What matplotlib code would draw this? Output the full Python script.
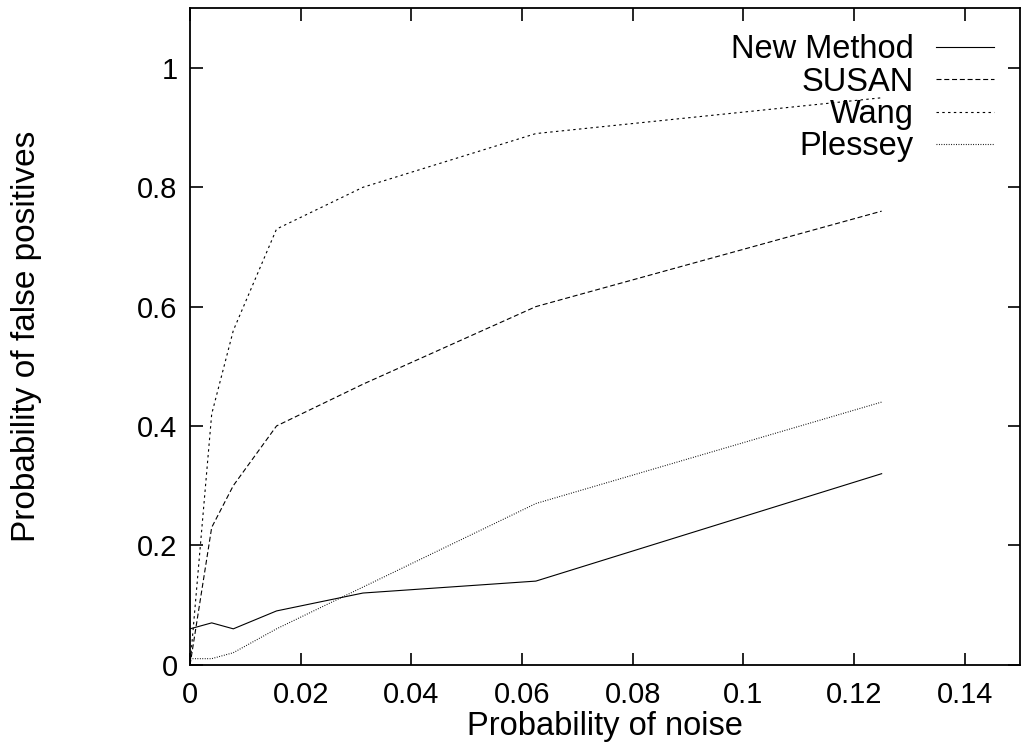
import numpy as np
import matplotlib.pyplot as plt
from matplotlib.ticker import FuncFormatter

plt.rcParams['font.family'] = ['Liberation Sans', 'DejaVu Sans']
plt.rcParams['font.size'] = 21

# noise probabilities 0, 1/256 ... 1/8
noise = [0, 1/256, 1/128, 1/64, 1/32, 1/16, 1/8]

new_method = [0.06, 0.07, 0.06, 0.09, 0.12, 0.14, 0.32]
susan = [0.0, 0.23, 0.30, 0.40, 0.47, 0.60, 0.76]
wang = [0.0, 0.42, 0.56, 0.73, 0.80, 0.89, 0.95]
plessey = [0.01, 0.01, 0.02, 0.06, 0.13, 0.27, 0.44]

x_ticks = [0, 0.02, 0.04, 0.06, 0.08, 0.1, 0.12, 0.14]
y_ticks = [0, 0.2, 0.4, 0.6, 0.8, 1]

fig = plt.figure(figsize=(10.22, 7.51), dpi=100)
ax = fig.add_axes([0.186, 0.115, 0.812, 0.874])

lw = 0.8
ax.plot(noise, new_method, color='black', lw=lw, label='New Method')
ax.plot(noise, susan, color='black', lw=lw, dashes=(4.5, 2.5), label='SUSAN')
ax.plot(noise, wang, color='black', lw=lw, dashes=(2.2, 3), label='Wang')
ax.plot(noise, plessey, color='black', lw=lw, dashes=(0.8, 1.4), label='Plessey')

ax.set_xlim(0, 0.15)
ax.set_ylim(0, 1.1)
ax.set_xticks(x_ticks)
ax.set_yticks(y_ticks)
fmt = FuncFormatter(lambda v, p: '%g' % v)
ax.xaxis.set_major_formatter(fmt)
ax.yaxis.set_major_formatter(fmt)
ax.tick_params(direction='in', length=9, width=1.2, top=True, right=True)
ax.tick_params(axis='x', pad=12)
ax.tick_params(axis='y', pad=9)
for s in ax.spines.values():
    s.set_linewidth(1.3)

ax.set_xlabel('Probability of noise', fontsize=23.5, labelpad=1)
ax.set_ylabel('Probability of false positives', fontsize=24)
ax.yaxis.set_label_coords(-0.178, 0.5)

ax.legend(loc='upper right', frameon=False, markerfirst=False, fontsize=23.5,
          handlelength=1.78, handletextpad=0.67, labelspacing=0.04,
          borderaxespad=0.3, borderpad=0.5)

fig.savefig('out.png', dpi=100)
